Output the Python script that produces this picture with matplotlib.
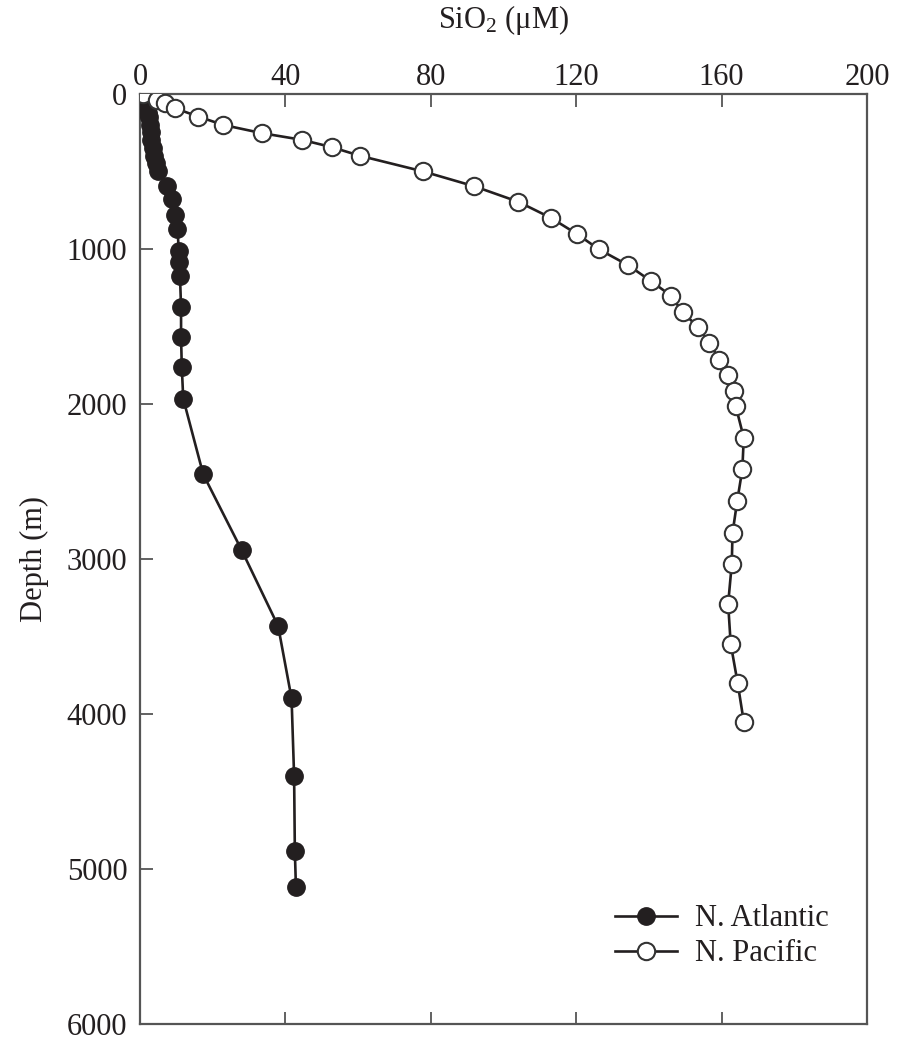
import matplotlib
matplotlib.use("Agg")
import matplotlib.pyplot as plt

matplotlib.rcParams['font.family'] = ['Liberation Serif', 'DejaVu Serif']
matplotlib.rcParams['mathtext.fontset'] = 'custom'
matplotlib.rcParams['mathtext.rm'] = 'Liberation Serif'
matplotlib.rcParams['mathtext.it'] = 'Liberation Serif:italic'

# N. Atlantic silicate profile (depth in m, SiO2 in uM)
atl_depth = [0, 25, 50, 75, 100, 125, 150, 200, 250, 300, 350, 400, 450, 500,
             598, 683, 780, 876, 1015, 1086, 1176, 1379, 1572, 1764, 1968,
             2456, 2946, 3434, 3901, 4404, 4884, 5119]
atl_sio2 = [0.3, 0.8, 1.2, 1.6, 2.0, 2.2, 2.4, 2.7, 2.9, 3.1, 3.5, 3.9, 4.4, 5.0,
            7.3, 8.7, 9.6, 10.3, 10.7, 10.7, 11.0, 11.3, 11.3, 11.5, 11.9,
            17.4, 28.0, 38.0, 41.7, 42.4, 42.6, 42.9]

# N. Pacific silicate profile
pac_depth = [5, 41, 62, 94, 148, 202, 255, 298, 345, 401, 502, 598, 698, 801,
             904, 1005, 1107, 1208, 1304, 1411, 1507, 1608, 1715, 1818, 1915,
             2017, 2220, 2424, 2627, 2835, 3034, 3291, 3548, 3799, 4051]
pac_sio2 = [0.9, 4.6, 6.9, 9.6, 16.0, 22.9, 33.5, 44.5, 52.7, 60.5, 77.9, 92.0,
            104.1, 113.0, 120.1, 126.3, 134.3, 140.5, 146.1, 149.3, 153.6, 156.6,
            159.4, 161.8, 163.4, 163.9, 166.1, 165.7, 164.3, 163.0, 162.8, 161.8,
            162.5, 164.4, 166.1]

x_ticks = [0, 40, 80, 120, 160, 200]
y_ticks = [0, 1000, 2000, 3000, 4000, 5000, 6000]

ink = '#231f20'
spine_col = '#555555'

fig = plt.figure(figsize=(9.02, 10.4), dpi=100)
ax = fig.add_axes([0.1552, 0.0155, 0.806, 0.8945])

ax.plot(atl_sio2, atl_depth, '-o', color=ink, lw=1.9, markersize=12.5,
        markerfacecolor=ink, markeredgecolor=ink, label='N. Atlantic', zorder=3)
ax.plot(pac_sio2, pac_depth, '-o', color=ink, lw=1.9, markersize=12.5,
        markerfacecolor='white', markeredgecolor='#333333', markeredgewidth=1.5,
        label='N. Pacific', zorder=4)

ax.set_xlim(0, 200)
ax.set_ylim(6000, 0)
ax.set_xticks(x_ticks)
ax.set_yticks(y_ticks)

ax.xaxis.set_ticks_position('both')
ax.xaxis.set_label_position('top')
ax.tick_params(axis='x', which='both', direction='in', length=9, width=1.3,
               color=spine_col, labeltop=True, labelbottom=False, pad=1,
               labelsize=22, labelcolor=ink)
ax.tick_params(axis='y', direction='in', length=9, width=1.3, color=spine_col,
               left=True, right=False, pad=9, labelsize=22, labelcolor=ink)

for s in ax.spines.values():
    s.set_color(spine_col)
    s.set_linewidth(1.6)

ax.set_xlabel('SiO$_2$ (\u03bcM)', fontsize=22, color=ink, labelpad=25)
ax.set_ylabel('Depth (m)', fontsize=22, color=ink, labelpad=13)

ax.legend(loc='lower right', bbox_to_anchor=(0.985, 0.03), frameon=False,
          fontsize=22, handlelength=2.0, handletextpad=0.6, labelspacing=0.2,
          labelcolor=ink)

fig.savefig('out.png', dpi=100)
